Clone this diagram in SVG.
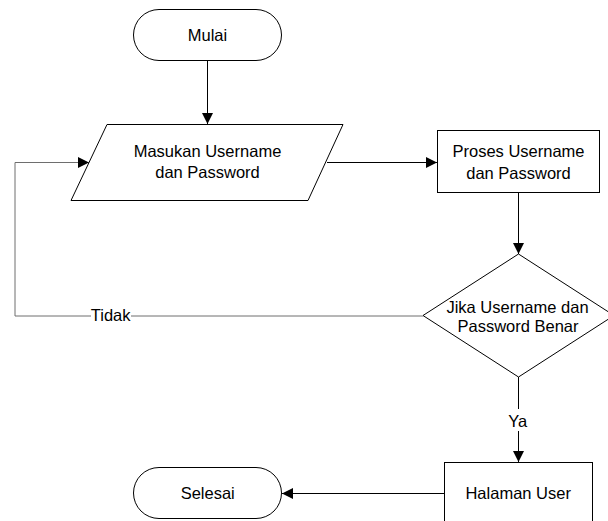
<svg xmlns="http://www.w3.org/2000/svg" width="608" height="521" viewBox="0 0 608 521">
<style>
.shape{fill:#fff;stroke:#000;stroke-width:1}
.line{fill:none;stroke:#000;stroke-width:1}
.loop{fill:none;stroke:#6e6e6e;stroke-width:1}
text{font-family:"Liberation Sans",Arial,sans-serif;font-size:16.5px;fill:#000;text-anchor:middle}
.bg{fill:#fff;stroke:none}
</style>
<defs>
<marker id="arr" viewBox="0 0 11 11" refX="11" refY="5.5" markerWidth="11" markerHeight="11" markerUnits="userSpaceOnUse" orient="auto">
<path d="M0,0 L11,5.5 L0,11 Z" fill="#000"/>
</marker>
</defs>
<rect width="608" height="521" fill="#fff"/>
<g id="connectors">
<line class="line" x1="207.5" y1="60.5" x2="207.5" y2="124" marker-end="url(#arr)"/>
<line class="line" x1="327" y1="162.5" x2="437" y2="162.5" marker-end="url(#arr)"/>
<line class="line" x1="518.5" y1="192.5" x2="518.5" y2="254" marker-end="url(#arr)"/>
<polyline class="loop" points="423,316 15,316 15,162.5 89,162.5" marker-end="url(#arr)"/>
<rect class="bg" x="91" y="305" width="40" height="20"/>
<text x="110.7" y="320.7">Tidak</text>
<line class="line" x1="518.5" y1="377" x2="518.5" y2="462" marker-end="url(#arr)"/>
<rect class="bg" x="507" y="409" width="22" height="22"/>
<text x="517.8" y="426.7">Ya</text>
<line class="line" x1="444.5" y1="493.5" x2="282" y2="493.5" marker-end="url(#arr)"/>
</g>
<g id="mulai">
<rect class="shape" x="133.5" y="9.5" width="148" height="51" rx="25.5" ry="25.5"/>
<text x="207.5" y="40.5">Mulai</text>
</g>
<g id="input">
<polygon class="shape" points="107,124.5 343,124.5 308,200.5 71,200.5"/>
<text x="207.5" y="156.5">Masukan Username</text>
<text x="207.5" y="178.3">dan Password</text>
</g>
<g id="proses">
<rect class="shape" x="437.5" y="130.5" width="162" height="62"/>
<text x="518.5" y="157.3">Proses Username</text>
<text x="518.5" y="179">dan Password</text>
</g>
<g id="decision">
<polygon class="shape" points="518.5,254 614,315.5 518.5,377 423,315.5"/>
<text x="517.5" y="312.7">Jika Username dan</text>
<text x="518" y="332">Password Benar</text>
</g>
<g id="halaman">
<rect class="shape" x="444.5" y="462.5" width="148" height="62"/>
<text x="518.2" y="499">Halaman User</text>
</g>
<g id="selesai">
<rect class="shape" x="133.5" y="467.5" width="148" height="51" rx="25.5" ry="25.5"/>
<text x="207.7" y="499">Selesai</text>
</g>
</svg>
